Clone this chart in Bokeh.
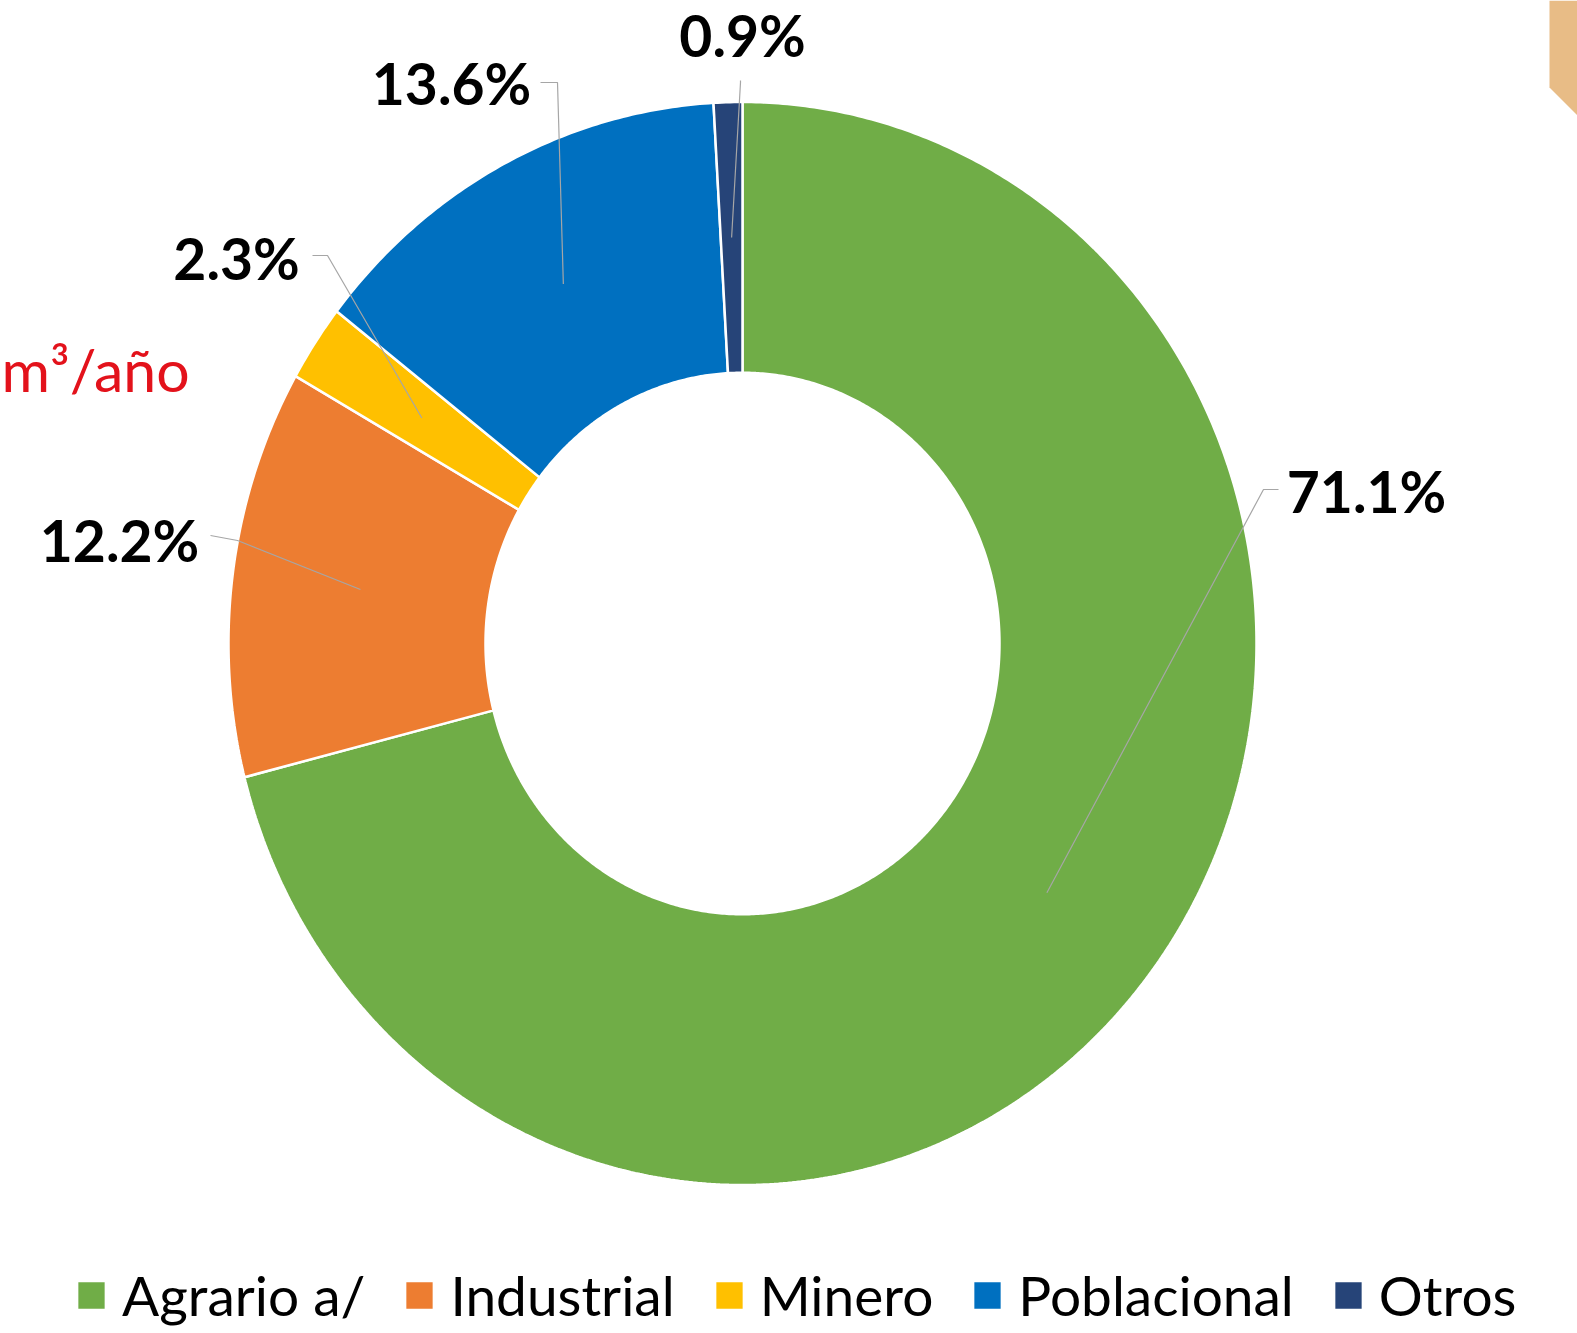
import numpy as np
from bokeh.plotting import figure
from bokeh.models import Range1d, Legend, LegendItem
from bokeh.core.properties import value
from bokeh.embed import file_html
from bokeh.resources import INLINE

# ---------------- data ----------------
categories = ["Agrario a/", "Industrial", "Minero", "Poblacional", "Otros"]
shares = [71.1, 12.2, 2.3, 13.6, 0.9]
colors = ["#70AD47", "#ED7D31", "#FFC000", "#0070C0", "#264478"]
unit_note = "m³/año"

# ---------------- layout ----------------
W, H = 1577, 1333
CX, CY = 742.0, 643.0        # donut centre (screen-like data units)
RX, RY = 514.0, 541.5        # outer radii (picture is slightly stretched)
HOLE = 0.5                   # inner radius fraction
LEADER_R = 0.75              # where leader lines end inside the ring
TXT_SHIFT = 24               # baseline correction for svg text

# label anchors (centre x, baseline y) and leader tick points (tick end, elbow)
label_pos = [(1366, 514), (119, 563), (236, 281), (451, 106), (742, 58)]
leader_pts = [((1278, 489), (1263, 489)),
              ((210, 535), (237, 540)),
              ((312, 255), (327, 255)),
              ((540, 82), (557, 82)),
              ((740, 80), (740, 82))]

FONT = "Lato"

p = figure(width=W, height=H, x_range=Range1d(0, W), y_range=Range1d(H, 0),
           x_axis_type=None, y_axis_type=None, toolbar_location=None,
           output_backend="svg", min_border=0, outline_line_color=None)
p.grid.visible = False
p.background_fill_color = "white"
p.border_fill_color = "white"

total = float(sum(shares))
bounds = np.cumsum([0.0] + shares) / total * 2 * np.pi

legend_items = []
inner_pts = []
for i, cat in enumerate(categories):
    a0, a1 = bounds[i], bounds[i + 1]
    th = np.linspace(a0, a1, max(8, int((a1 - a0) / (2 * np.pi) * 720)))
    xo = CX + RX * np.sin(th)
    yo = CY - RY * np.cos(th)
    xi = CX + HOLE * RX * np.sin(th[::-1])
    yi = CY - HOLE * RY * np.cos(th[::-1])
    r = p.patch(x=np.concatenate([xo, xi]), y=np.concatenate([yo, yi]),
                fill_color=colors[i], line_color="white", line_width=2.5)
    legend_items.append(LegendItem(label=cat, renderers=[r]))
    mid = (a0 + a1) / 2
    inner_pts.append((CX + LEADER_R * RX * np.sin(mid), CY - LEADER_R * RY * np.cos(mid)))

# leader lines
xs, ys = [], []
for (tick, elbow), inner in zip(leader_pts, inner_pts):
    xs.append([tick[0], elbow[0], inner[0]])
    ys.append([tick[1], elbow[1], inner[1]])
p.multi_line(xs=xs, ys=ys, line_color="#A6A6A6", line_width=1.2)

# percentage labels
p.text(x=[lp[0] for lp in label_pos], y=[lp[1] - TXT_SHIFT for lp in label_pos],
       text=[f"{v:.1f}%" for v in shares],
       text_align="center", text_baseline="alphabetic",
       text_font=value(FONT), text_font_style="bold", text_font_size="57px",
       text_color="black")

# red unit note at the left edge
p.text(x=[1], y=[393 - TXT_SHIFT], text=[unit_note], text_align="left",
       text_baseline="alphabetic", text_font=value(FONT),
       text_font_size="59px", text_color="#E3121B")

# decorative corner shape
p.patch(x=[1549, 1549, 1577, 1577], y=[0, 87, 115, 0],
        fill_color="#E8BC86", line_color=None)

legend = Legend(items=legend_items, orientation="horizontal", location=(73, 5),
                glyph_width=36, glyph_height=36, label_standoff=13, spacing=36,
                padding=0, margin=0, border_line_color=None,
                background_fill_alpha=0, label_text_font=FONT,
                label_text_font_size="55px", label_text_color="black")
p.add_layout(legend)

open("out.html", "w").write(file_html(p, INLINE))
